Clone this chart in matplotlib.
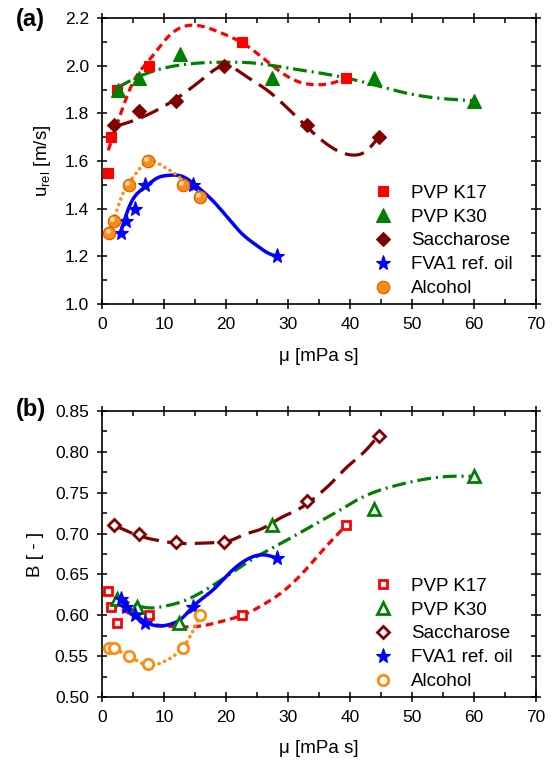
import numpy as np
import matplotlib
matplotlib.use("Agg")
import matplotlib.pyplot as plt
from matplotlib.ticker import MultipleLocator, FormatStrFormatter
import matplotlib.transforms as mtransforms

plt.rcParams['font.family'] = ['Liberation Sans', 'DejaVu Sans']
plt.rcParams['lines.scale_dashes'] = False
plt.rcParams['mathtext.fontset'] = 'custom'
plt.rcParams['mathtext.rm'] = 'Liberation Sans'

labels = ["PVP K17", "PVP K30", "Saccharose", "FVA1 ref. oil", "Alcohol"]
colors = ["#ff0000", "#008000", "#800000", "#0000ff", "#ff8c10"]

# ---------- measured points (a) ----------
k17_mu = [1.0, 1.5, 2.5, 7.6, 22.6, 39.4]
k17_u = [1.55, 1.70, 1.90, 2.00, 2.10, 1.95]
k30_mu = [2.6, 5.9, 12.6, 27.4, 43.9, 60.0]
k30_u = [1.90, 1.95, 2.05, 1.95, 1.95, 1.85]
sac_mu = [2.0, 6.0, 12.0, 19.6, 33.0, 44.6]
sac_u = [1.75, 1.81, 1.85, 2.00, 1.75, 1.70]
fva_mu = [3.0, 3.8, 5.3, 6.9, 14.6, 28.2]
fva_u = [1.30, 1.35, 1.40, 1.50, 1.50, 1.20]
alc_mu = [1.2, 1.9, 4.4, 7.4, 13.0, 15.8]
alc_u = [1.30, 1.35, 1.50, 1.60, 1.50, 1.45]

# ---------- fitted trend curves (a) ----------
k17_fit_mu = [1.0, 2.9, 5.0, 7.5, 11.0, 15.0, 19.0, 23.0, 27.0, 31.0, 34.6, 37.5, 39.5]
k17_fit_u = [1.645, 1.79, 1.93, 2.02, 2.13, 2.17, 2.14, 2.09, 2.01, 1.94, 1.92, 1.93, 1.95]
k30_fit_mu = [2.6, 6.0, 10.0, 15.0, 20.0, 25.0, 30.0, 35.0, 40.0, 45.0, 50.0, 55.0, 60.0]
k30_fit_u = [1.91, 1.955, 1.99, 2.01, 2.015, 2.01, 1.99, 1.97, 1.945, 1.912, 1.88, 1.862, 1.853]
sac_fit_mu = [2.0, 4.0, 7.0, 10.0, 13.0, 16.5, 20.0, 23.0, 26.5, 30.0, 34.0, 37.5, 40.5, 42.5, 44.6]
sac_fit_u = [1.745, 1.76, 1.79, 1.83, 1.88, 1.95, 2.0, 1.96, 1.9, 1.82, 1.72, 1.65, 1.625, 1.64, 1.70]
fva_fit_mu = [3.0, 4.5, 6.9, 9.0, 10.7, 13.0, 15.0, 18.0, 20.6, 23.0, 25.0, 26.7, 28.2]
fva_fit_u = [1.30, 1.415, 1.49, 1.53, 1.54, 1.535, 1.50, 1.43, 1.352, 1.285, 1.245, 1.215, 1.20]
alc_fit_mu = [1.0, 1.8, 3.4, 5.1, 7.5, 9.4, 11.6, 14.3, 16.0]
alc_fit_u = [1.30, 1.35, 1.465, 1.535, 1.60, 1.585, 1.55, 1.49, 1.445]

# ---------- measured points (b) ----------
k17_B = [0.63, 0.61, 0.59, 0.60, 0.60, 0.71]
k30_mu_b = [2.4, 5.7, 12.4, 27.4, 43.9, 60.0]
k30_B = [0.62, 0.61, 0.59, 0.71, 0.73, 0.77]
sac_B = [0.71, 0.70, 0.69, 0.69, 0.74, 0.82]
fva_mu_b = [3.0, 3.8, 5.3, 6.9, 14.6, 28.2]
fva_B = [0.62, 0.61, 0.60, 0.59, 0.61, 0.67]
alc_B = [0.56, 0.56, 0.55, 0.54, 0.56, 0.60]

# ---------- fitted trend curves (b) ----------
k17_fit_mu_b = [1.5, 3.0, 5.0, 7.0, 9.0, 12.0, 16.0, 20.0, 23.0, 26.0, 29.0, 33.0, 36.0, 39.4]
k17_fit_B = [0.615, 0.608, 0.600, 0.592, 0.588, 0.586, 0.587, 0.594, 0.601, 0.613, 0.628, 0.657, 0.683, 0.71]
k30_fit_mu_b = [2.4, 4.0, 6.0, 8.0, 10.0, 13.0, 16.0, 19.0, 22.3, 25.0, 27.4, 31.0, 34.0, 38.0, 41.6, 47.0, 52.4, 56.0, 60.0]
k30_fit_B = [0.622, 0.616, 0.611, 0.609, 0.611, 0.617, 0.628, 0.642, 0.659, 0.672, 0.682, 0.697, 0.71, 0.727, 0.743, 0.758, 0.767, 0.770, 0.770]
sac_fit_mu_b = [2.0, 3.5, 5.0, 7.0, 9.5, 12.5, 15.0, 18.5, 20.5, 23.0, 25.5, 29.0, 31.5, 34.5, 37.0, 39.6, 42.3, 44.6]
sac_fit_B = [0.71, 0.705, 0.70, 0.695, 0.691, 0.688, 0.688, 0.689, 0.691, 0.699, 0.705, 0.72, 0.729, 0.745, 0.762, 0.782, 0.80, 0.82]
fva_fit_mu_b = [3.0, 4.5, 6.0, 7.5, 9.0, 11.0, 13.0, 14.6, 17.9, 20.6, 23.3, 26.0, 28.2]
fva_fit_B = [0.62, 0.608, 0.597, 0.590, 0.587, 0.589, 0.597, 0.61, 0.631, 0.652, 0.668, 0.674, 0.67]
alc_fit_mu_b = [1.2, 2.4, 4.4, 7.3, 9.9, 12.6, 14.2, 15.8]
alc_fit_B = [0.56, 0.557, 0.55, 0.539, 0.543, 0.557, 0.574, 0.60]


def smooth(xk, yk, n=300):
    """Natural cubic spline through the read-off curve knots."""
    x = np.asarray(xk, float)
    y = np.asarray(yk, float)
    m = len(x)
    h = np.diff(x)
    A = np.zeros((m, m))
    r = np.zeros(m)
    A[0, 0] = A[-1, -1] = 1.0
    for i in range(1, m - 1):
        A[i, i - 1] = h[i - 1]
        A[i, i] = 2 * (h[i - 1] + h[i])
        A[i, i + 1] = h[i]
        r[i] = 3 * ((y[i + 1] - y[i]) / h[i] - (y[i] - y[i - 1]) / h[i - 1])
    c = np.linalg.solve(A, r)
    b = (y[1:] - y[:-1]) / h - h * (2 * c[:-1] + c[1:]) / 3
    d = (c[1:] - c[:-1]) / (3 * h)
    xs = np.linspace(x[0], x[-1], n)
    idx = np.clip(np.searchsorted(x, xs) - 1, 0, m - 2)
    dx = xs - x[idx]
    ys = y[idx] + b[idx] * dx + c[idx] * dx ** 2 + d[idx] * dx ** 3
    return xs, ys


fig = plt.figure(figsize=(5.54, 7.62), dpi=100)
axA = fig.add_axes([0.1841, 0.6010, 0.7834, 0.3753])
axB = fig.add_axes([0.1841, 0.0853, 0.7834, 0.3753])

styles = [
    dict(dashes=(5.5, 3.5), lw=2.3),
    dict(dashes=(10, 3.5, 1.5, 3.5), lw=2.3),
    dict(dashes=(14, 6), lw=2.3),
    dict(linestyle='-', lw=2.5),
    dict(dashes=(0.1, 4.2), lw=2.6, dash_capstyle='round'),
]
markers = ['s', '^', 'D', '*', 'o']
msizes = [7.5, 9.5, 7.5, 11, 9]

fitsA = [(k17_fit_mu, k17_fit_u), (k30_fit_mu, k30_fit_u), (sac_fit_mu, sac_fit_u),
         (fva_fit_mu, fva_fit_u), (alc_fit_mu, alc_fit_u)]
ptsA = [(k17_mu, k17_u), (k30_mu, k30_u), (sac_mu, sac_u), (fva_mu, fva_u), (alc_mu, alc_u)]
fitsB = [(k17_fit_mu_b, k17_fit_B), (k30_fit_mu_b, k30_fit_B), (sac_fit_mu_b, sac_fit_B),
         (fva_fit_mu_b, fva_fit_B), (alc_fit_mu_b, alc_fit_B)]
ptsB = [(k17_mu, k17_B), (k30_mu_b, k30_B), (sac_mu, sac_B), (fva_mu_b, fva_B), (alc_mu, alc_B)]

for i in range(5):
    xs, ys = smooth(*fitsA[i])
    axA.plot(xs, ys, color=colors[i], zorder=2, **styles[i])
for i in range(5):
    x, y = ptsA[i]
    mec = '#d06000' if i == 4 else colors[i]
    axA.plot(x, y, linestyle='none', marker=markers[i], ms=msizes[i], color=colors[i],
             mec=mec, mew=0.8, label=labels[i], zorder=4)
# sphere highlight for alcohol markers
hl = mtransforms.offset_copy(axA.transData, fig=fig, x=-1.3, y=1.3, units='points')
axA.plot(alc_mu, alc_u, linestyle='none', marker='o', ms=3.5, color='#ffd8a8', mew=0,
         transform=hl, zorder=5)

for i in range(5):
    xs, ys = smooth(*fitsB[i])
    axB.plot(xs, ys, color=colors[i], zorder=2, **styles[i])
for i in range(5):
    x, y = ptsB[i]
    if i == 3:
        axB.plot(x, y, linestyle='none', marker='*', ms=11, color=colors[i], mew=0.8,
                 label=labels[i], zorder=4)
    else:
        axB.plot(x, y, linestyle='none', marker=markers[i], ms=msizes[i] - 1.5, mfc='white',
                 mec=colors[i], mew=2.0, label=labels[i], zorder=4)

for ax in (axA, axB):
    ax.set_xlim(0, 70)
    ax.xaxis.set_major_locator(MultipleLocator(10))
    ax.xaxis.set_minor_locator(MultipleLocator(5))
    ax.tick_params(which='both', top=True, right=True, labelsize=12.5, width=1.1, pad=6)
    ax.tick_params(which='major', direction='inout', length=7)
    ax.tick_params(which='minor', direction='in', length=3.5)
    for s in ax.spines.values():
        s.set_linewidth(1.2)
    ax.set_xlabel('μ [mPa s]', fontsize=13.5, labelpad=11)
    ax.legend(loc='lower right', frameon=False, fontsize=13.5, handletextpad=0.9,
              labelspacing=0.36, bbox_to_anchor=(0.985, -0.035), borderaxespad=0.5,
              handlelength=1.2)

axA.set_ylim(1.0, 2.2)
axA.yaxis.set_major_locator(MultipleLocator(0.2))
axA.yaxis.set_minor_locator(MultipleLocator(0.1))
axA.yaxis.set_major_formatter(FormatStrFormatter('%.1f'))
axA.set_ylabel(r'u$_{\mathrm{rel}}$ [m/s]', fontsize=13.5, labelpad=8)

axB.set_ylim(0.50, 0.85)
axB.yaxis.set_major_locator(MultipleLocator(0.05))
axB.yaxis.set_minor_locator(MultipleLocator(0.025))
axB.yaxis.set_major_formatter(FormatStrFormatter('%.2f'))
axB.set_ylabel('B [ - ]', fontsize=13.5, labelpad=8)

fig.text(0.028, 0.974, '(a)', fontsize=17, fontweight='bold', va='center', ha='left')
fig.text(0.028, 0.462, '(b)', fontsize=17, fontweight='bold', va='center', ha='left')

fig.savefig('out.png', dpi=100)
